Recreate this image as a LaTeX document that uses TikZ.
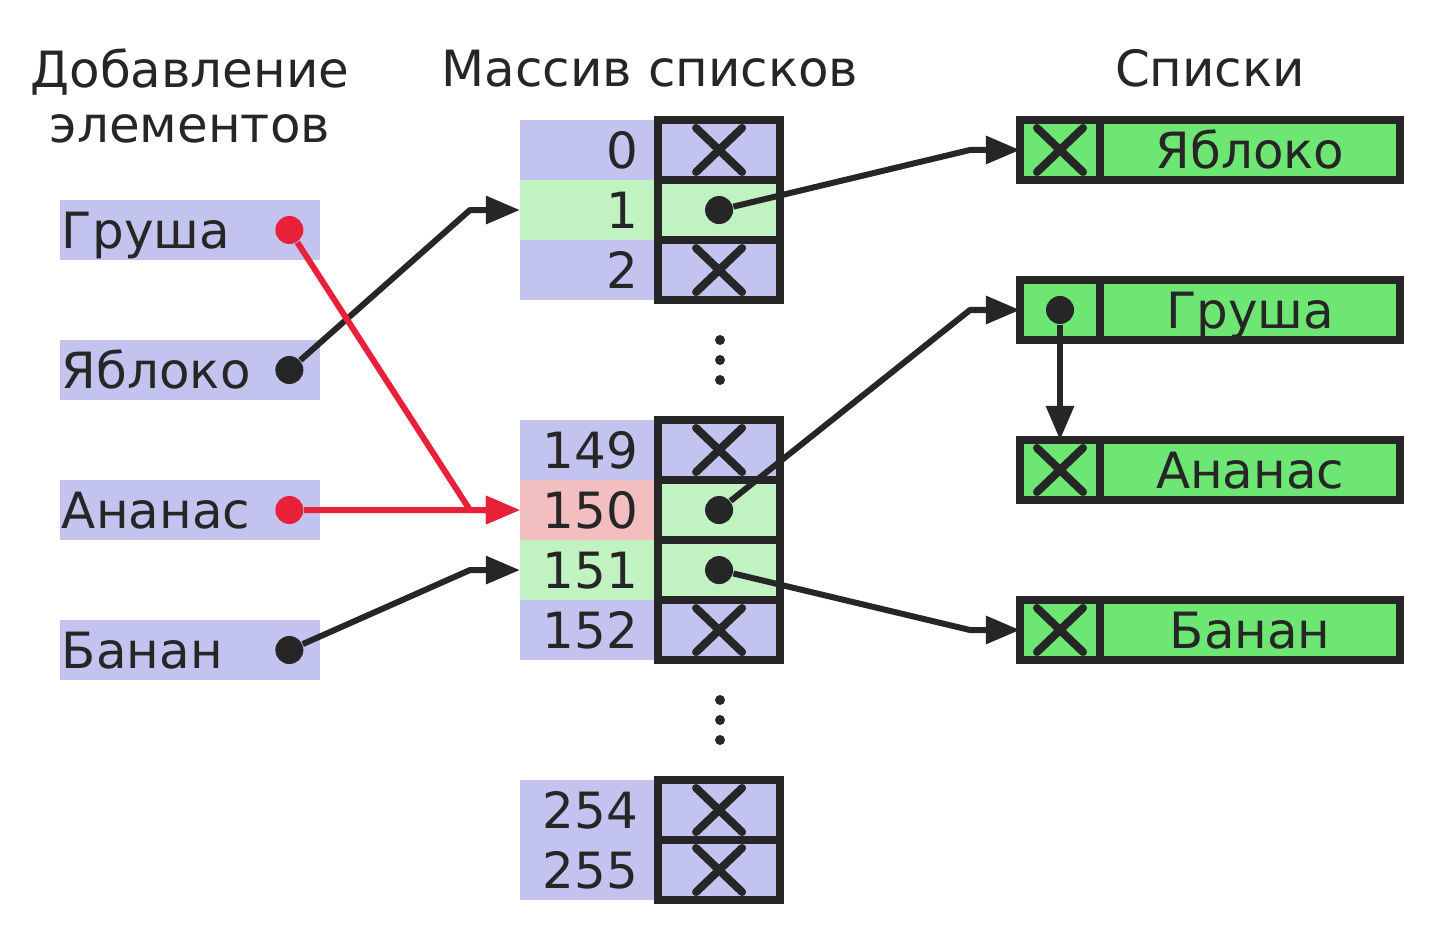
\documentclass[tikz,border=0pt]{standalone}
\usepackage{fontspec}
\setmainfont{DejaVu Sans}
\usetikzlibrary{positioning,shapes.misc,arrows.meta}

\definecolor{ink}{HTML}{262626}
\definecolor{lav}{HTML}{C3C3F0}
\definecolor{mint}{HTML}{C0F2C2}
\definecolor{rose}{HTML}{F2BEC0}
\definecolor{leaf}{HTML}{6EE673}
\definecolor{hot}{HTML}{E8203A}

\newcommand{\figfont}{\fontsize{14.2pt}{15.9pt}\selectfont}

\tikzset{
	hdr/.style={align=center, font=\figfont, text=ink, inner sep=0},
	item/.style={fill=lav, minimum height=0.6cm, text width=2.56cm, inner xsep=0.02cm, inner ysep=0, outer sep=0,
		align=left, font=\figfont, text=ink, text height=0.46cm, text depth=0.1cm},
	idx/.style={fill=lav, minimum height=0.6cm, text width=0.98cm, inner xsep=0.2cm, inner ysep=0, outer sep=0,
		align=right, font=\figfont, text=ink, text height=0.46cm, text depth=0.1cm},
	cell/.style={draw=ink, fill=lav, line width=0.08cm, minimum width=1.22cm, minimum height=0.6cm, inner sep=0, outer sep=0},
	lhead/.style={draw=ink, fill=leaf, line width=0.08cm, minimum width=0.8cm, minimum height=0.6cm, inner sep=0, outer sep=0},
	fruit/.style={draw=ink, fill=leaf, line width=0.08cm, minimum width=3cm, minimum height=0.6cm, inner sep=0, outer sep=0,
		font=\figfont, text=ink, text height=0.46cm, text depth=0.1cm},
	nil/.style={cross out, draw=ink, line width=0.08cm, line cap=round, minimum width=0.38cm, minimum height=0.36cm, inner sep=0},
	ptr/.style={circle, fill=ink, minimum size=0.28cm, inner sep=0},
	hotptr/.style={ptr, fill=hot},
	gap/.style={circle, fill=ink, minimum size=0.1cm, inner sep=0},
	link/.style={draw=ink, line width=0.06cm, line join=round, -{Triangle[length=0.34cm,width=0.27cm]}},
	hotlink/.style={link, draw=hot}
}

\begin{document}
\begin{tikzpicture}[x=0.01cm, y=-0.01cm]
	\useasboundingbox (0,0) rectangle (1440,940);

	% headers
	\node[hdr, anchor=base] (hadd) at (190,143) {Добавление\\элементов};
	\node[hdr, anchor=base] (harr) at (650,87) {Массив списков};
	\node[hdr, anchor=base] (hlst) at (1210,87) {Списки};

	% elements to add
	\node[item] (igr) at (190,230) {Груша};
	\node[item] (iya) at (190,370) {Яблоко};
	\node[item] (ian) at (190,510) {Ананас};
	\node[item] (iba) at (190,650) {Банан};
	\node[hotptr, left=0.16cm of igr.east] (pgr) {};
	\node[ptr, left=0.16cm of iya.east] (pya) {};
	\node[hotptr, left=0.16cm of ian.east] (pan) {};
	\node[ptr, left=0.16cm of iba.east] (pba) {};

	% array of lists
	\node[idx] (l0) at (589,150) {0};
	\node[idx, fill=mint, below=0 of l0] (l1) {1};
	\node[idx, below=0 of l1] (l2) {2};
	\node[idx] (l149) at (589,450) {149};
	\node[idx, fill=rose, below=0 of l149] (l150) {150};
	\node[idx, fill=mint, below=0 of l150] (l151) {151};
	\node[idx, below=0 of l151] (l152) {152};
	\node[idx] (l254) at (589,810) {254};
	\node[idx, below=0 of l254] (l255) {255};

	\node[cell, right=0 of l0] (c0) {};
	\node[cell, fill=mint, right=0 of l1] (c1) {};
	\node[cell, right=0 of l2] (c2) {};
	\node[cell, right=0 of l149] (c149) {};
	\node[cell, fill=mint, right=0 of l150] (c150) {};
	\node[cell, fill=mint, right=0 of l151] (c151) {};
	\node[cell, right=0 of l152] (c152) {};
	\node[cell, right=0 of l254] (c254) {};
	\node[cell, right=0 of l255] (c255) {};

	\node[nil] (x0) at (c0) {};
	\node[nil] (x2) at (c2) {};
	\node[nil] (x149) at (c149) {};
	\node[nil] (x152) at (c152) {};
	\node[nil] (x254) at (c254) {};
	\node[nil] (x255) at (c255) {};
	\node[ptr] (p1) at (c1) {};
	\node[ptr] (p150) at (c150) {};
	\node[ptr] (p151) at (c151) {};

	\node[gap] (v1) at (720,340) {};
	\node[gap] (v2) at (720,360) {};
	\node[gap] (v3) at (720,380) {};
	\node[gap] (v4) at (720,700) {};
	\node[gap] (v5) at (720,720) {};
	\node[gap] (v6) at (720,740) {};

	% lists
	\node[lhead] (ya) at (1060,150) {};
	\node[fruit, right=0 of ya] (yan) {Яблоко};
	\node[lhead] (gr) at (1060,310) {};
	\node[fruit, right=0 of gr] (grn) {Груша};
	\node[lhead] (an) at (1060,470) {};
	\node[fruit, right=0 of an] (ann) {Ананас};
	\node[lhead] (ba) at (1060,630) {};
	\node[fruit, right=0 of ba] (ban) {Банан};
	\node[nil] (xya) at (ya) {};
	\node[nil] (xan) at (an) {};
	\node[nil] (xba) at (ba) {};
	\node[ptr] (pgl) at (gr) {};

	% links
	\draw[link] (pya) -- ([xshift=-0.5cm]l1.west) -- (l1.west);
	\draw[link] (pba) -- ([xshift=-0.5cm]l151.west) -- (l151.west);
	\draw[hotlink] (pgr) -- ([xshift=-0.5cm]l150.west) -- (l150.west);
	\draw[hotlink] (pan) -- (l150.west);
	\draw[link] (p1) -- ([xshift=-0.5cm]ya.west) -- (ya.west);
	\draw[link] (p150) -- ([xshift=-0.5cm]gr.west) -- (gr.west);
	\draw[link] (p151) -- ([xshift=-0.5cm]ba.west) -- (ba.west);
	\draw[link] (pgl) -- (an.north);

\end{tikzpicture}
\end{document}
